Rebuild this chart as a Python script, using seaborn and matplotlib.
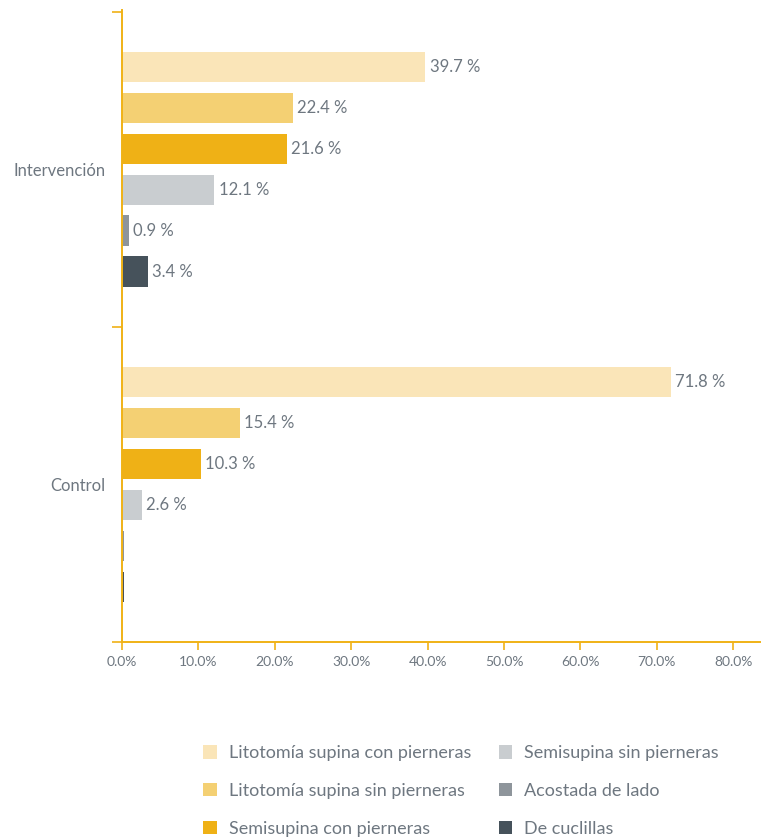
import matplotlib
matplotlib.use("Agg")
import matplotlib.pyplot as plt
from matplotlib.patches import Patch
from matplotlib.ticker import FixedLocator, PercentFormatter
import pandas as pd
import seaborn as sns

# Birth positions by study group (percent of births)
groups = ["Intervención", "Control"]
positions = [
    "Litotomía supina con pierneras",
    "Litotomía supina sin pierneras",
    "Semisupina con pierneras",
    "Semisupina sin pierneras",
    "Acostada de lado",
    "De cuclillas",
]
intervencion = [39.7, 22.4, 21.6, 12.1, 0.9, 3.4]
control = [71.8, 15.4, 10.3, 2.6, 0.2, 0.2]
colors = ["#FAE5B8", "#F4D073", "#EFB116", "#C9CDD0", "#8E959B", "#46525B"]
x_ticks = [0, 10, 20, 30, 40, 50, 60, 70, 80]

AXIS_COLOR = "#F0B216"
TEXT_COLOR = "#6E7780"

rows = []
for grp, vals in zip(groups, [intervencion, control]):
    for pos, v in zip(positions, vals):
        rows.append({"grupo": grp, "posicion": pos, "valor": v})
df = pd.DataFrame(rows)

sns.set_style("white")
plt.rcParams["font.family"] = ["Lato", "DejaVu Sans"]

fig = plt.figure(figsize=(7.61, 8.40), dpi=100)
ax = fig.add_axes([122 / 761, 1 - 642 / 840, (760 - 122) / 761, (642 - 10) / 840])

sns.barplot(
    data=df, y="grupo", x="valor", hue="posicion",
    order=groups, hue_order=positions, palette=colors, saturation=1,
    orient="h", width=0.78, gap=0.25, linewidth=0,
    legend=False, ax=ax,
)

# Value labels at the end of each bar
for container in ax.containers:
    labels = []
    for bar in container:
        w = bar.get_width()
        labels.append(f"{w:.1f} %" if w >= 0.5 else "")
    ax.bar_label(container, labels=labels, padding=3,
                 color=TEXT_COLOR, fontsize=12)

ax.set_xlim(0, 83.5)
ax.set_ylim(1.494, -0.506)
ax.set_xlabel("")
ax.set_ylabel("")

ax.xaxis.set_major_locator(FixedLocator(x_ticks))
ax.xaxis.set_major_formatter(PercentFormatter(decimals=1))
ax.tick_params(axis="x", bottom=True, direction="out", length=6, width=1.2,
               color=AXIS_COLOR, labelcolor=TEXT_COLOR, labelsize=10, pad=4)

# Category labels centred, tick marks at group boundaries
ax.set_yticks([0, 1])
ax.set_yticklabels(groups)
ax.set_yticks([-0.5, 0.5, 1.5], minor=True)
ax.tick_params(axis="y", which="major", left=False, length=0,
               labelcolor=TEXT_COLOR, labelsize=12, pad=12)
ax.tick_params(axis="y", which="minor", left=True, direction="out",
               length=7, width=1.2, color=AXIS_COLOR)

for side in ["top", "right"]:
    ax.spines[side].set_visible(False)
for side in ["left", "bottom"]:
    ax.spines[side].set_color(AXIS_COLOR)
    ax.spines[side].set_linewidth(1.4)

handles = [Patch(facecolor=c, edgecolor="none", label=p)
           for c, p in zip(colors, positions)]
fig.legend(
    handles=handles, loc="upper left", bbox_to_anchor=(196 / 761, 1 - 738 / 840),
    ncol=2, frameon=False, fontsize=13, labelcolor=TEXT_COLOR,
    handlelength=0.75, handleheight=0.75, handletextpad=0.65,
    labelspacing=1.2, columnspacing=1.55, borderaxespad=0,
)

fig.savefig("out.png", dpi=100)
